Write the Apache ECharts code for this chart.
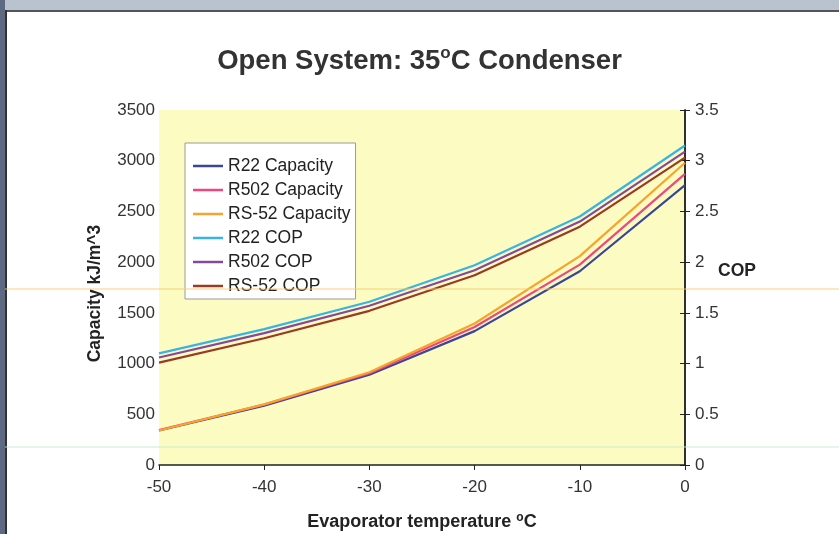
<!DOCTYPE html>
<html><head><meta charset="utf-8">
<script src="https://cdn.jsdelivr.net/npm/echarts@6/dist/echarts.min.js"></script>
<style>html,body{margin:0;padding:0;background:#fff;overflow:hidden}#c{width:839px;height:534px}</style>
</head><body><div id="c"></div>
<script>
var temps = [-50, -40, -30, -20, -10, 0];
var r22Cap  = [340, 585, 890, 1320, 1910, 2760];
var r502Cap = [345, 595, 905, 1360, 1975, 2870];
var rs52Cap = [340, 598, 915, 1395, 2060, 2980];
var r22Cop  = [1.10, 1.34, 1.61, 1.97, 2.45, 3.15];
var r502Cop = [1.06, 1.30, 1.57, 1.92, 2.40, 3.09];
var rs52Cop = [1.01, 1.25, 1.52, 1.87, 2.35, 3.03];
var seriesNames = ['R22 Capacity','R502 Capacity','RS-52 Capacity','R22 COP','R502 COP','RS-52 COP'];
var seriesColors = ['#3a4796','#f0467e','#f7a32c','#38b3e3','#86489a','#983b24'];
var seriesData = [r22Cap, r502Cap, rs52Cap, r22Cop, r502Cop, rs52Cop];

function pairs(arr){ return temps.map(function(t,i){ return [t, arr[i]]; }); }

var font = 'Arial, "Liberation Sans", sans-serif';
var chart = echarts.init(document.getElementById('c'));
chart.setOption({
  backgroundColor: '#ffffff',
  animation: false,
  title: {
    text: '{t|Open System: 35}{s|o}{t|C Condenser}',
    left: 'center', top: 40,
    textStyle: {
      rich: {
        t: {fontSize: 27.5, fontWeight: 'bold', color: '#333', fontFamily: font, lineHeight: 32},
        s: {fontSize: 17, fontWeight: 'bold', color: '#333', fontFamily: font, verticalAlign: 'top', lineHeight: 32, padding: [0,0,13,0]}
      }
    }
  },
  graphic: [
    {type: 'rect', shape: {x: 0, y: 0, width: 839, height: 10}, style: {fill: '#b9c3cf'}, silent: true},
    {type: 'rect', shape: {x: 0, y: 0, width: 5, height: 534}, style: {fill: '#5d6a82'}, silent: true},
    {type: 'line', shape: {x1: 5, y1: 11, x2: 839, y2: 11}, style: {stroke: '#555', lineWidth: 2}, silent: true},
    {type: 'line', shape: {x1: 6, y1: 10, x2: 6, y2: 534}, style: {stroke: '#333', lineWidth: 2}, silent: true},
    {type: 'line', shape: {x1: 5, y1: 289, x2: 839, y2: 289}, style: {stroke: '#f6c870', lineWidth: 1.5, opacity: 0.6}, silent: true, z: 100},
    {type: 'line', shape: {x1: 5, y1: 447, x2: 839, y2: 447}, style: {stroke: '#bfeccb', lineWidth: 1.5, opacity: 0.6}, silent: true, z: 100}
  ],
  legend: {
    orient: 'vertical',
    left: 185, top: 143,
    data: seriesNames,
    icon: 'rect',
    backgroundColor: '#ffffff',
    borderColor: '#9a9a9a', borderWidth: 1,
    padding: [14, 5, 4, 8],
    itemWidth: 30, itemHeight: 2.5, itemGap: 6,
    textStyle: {fontSize: 17.5, lineHeight: 17, color: '#222', fontFamily: font, padding: [0,0,0,0]}
  },
  grid: {left: 159, right: 154, top: 110, bottom: 69, show: true, backgroundColor: '#fcfcc2', borderWidth: 0, outerBoundsMode: 'none', containLabel: false},
  xAxis: {
    type: 'value', min: -50, max: 0, interval: 10,
    name: 'Evaporator temperature {s|o}C',
    nameLocation: 'middle', nameGap: 47,
    nameTextStyle: {fontSize: 18, fontWeight: 'bold', color: '#222', fontFamily: font,
      rich: {s: {fontSize: 12, fontWeight: 'bold', color: '#222', fontFamily: font, padding: [0,0,9,0]}}},
    axisLine: {onZero: false, lineStyle: {color: '#222', width: 1.5}},
    axisTick: {show: true, length: 5, lineStyle: {color: '#222'}},
    axisLabel: {fontSize: 17, color: '#333', fontFamily: font, margin: 14},
    splitLine: {show: false}
  },
  yAxis: [
    {
      type: 'value', min: 0, max: 3500, interval: 500, position: 'left',
      name: 'Capacity kJ/m^3', nameLocation: 'middle', nameGap: 55, nameRotate: 90,
      nameTextStyle: {fontSize: 17.5, fontWeight: 'bold', color: '#222', fontFamily: font, padding: [0, 12, 0, 0]},
      axisLine: {show: true, lineStyle: {color: '#222', width: 1.5}},
      axisTick: {show: true, length: 5, lineStyle: {color: '#222'}},
      axisLabel: {fontSize: 17, color: '#333', fontFamily: font, margin: 4, formatter: function(v){ return String(v); }},
      splitLine: {show: false}
    },
    {
      type: 'value', min: 0, max: 3.5, interval: 0.5, position: 'right',
      name: 'COP\n\n', nameLocation: 'middle', nameGap: 33, nameRotate: 0, nameMoveOverlap: false,
      nameTextStyle: {fontSize: 17.5, lineHeight: 16, fontWeight: 'bold', color: '#222', fontFamily: font, align: 'left'},
      axisLine: {show: true, lineStyle: {color: '#222', width: 1.5}},
      axisTick: {show: true, length: 5, lineStyle: {color: '#222'}},
      axisLabel: {fontSize: 17, color: '#333', fontFamily: font, margin: 10},
      splitLine: {show: false}
    }
  ],
  series: seriesNames.map(function(n, i){
    return {
      name: n, type: 'line', yAxisIndex: i < 3 ? 0 : 1,
      data: pairs(seriesData[i]),
      symbol: 'none', smooth: false,
      color: seriesColors[i],
      lineStyle: {width: 2.2, color: seriesColors[i]}
    };
  })
});
</script></body></html>
